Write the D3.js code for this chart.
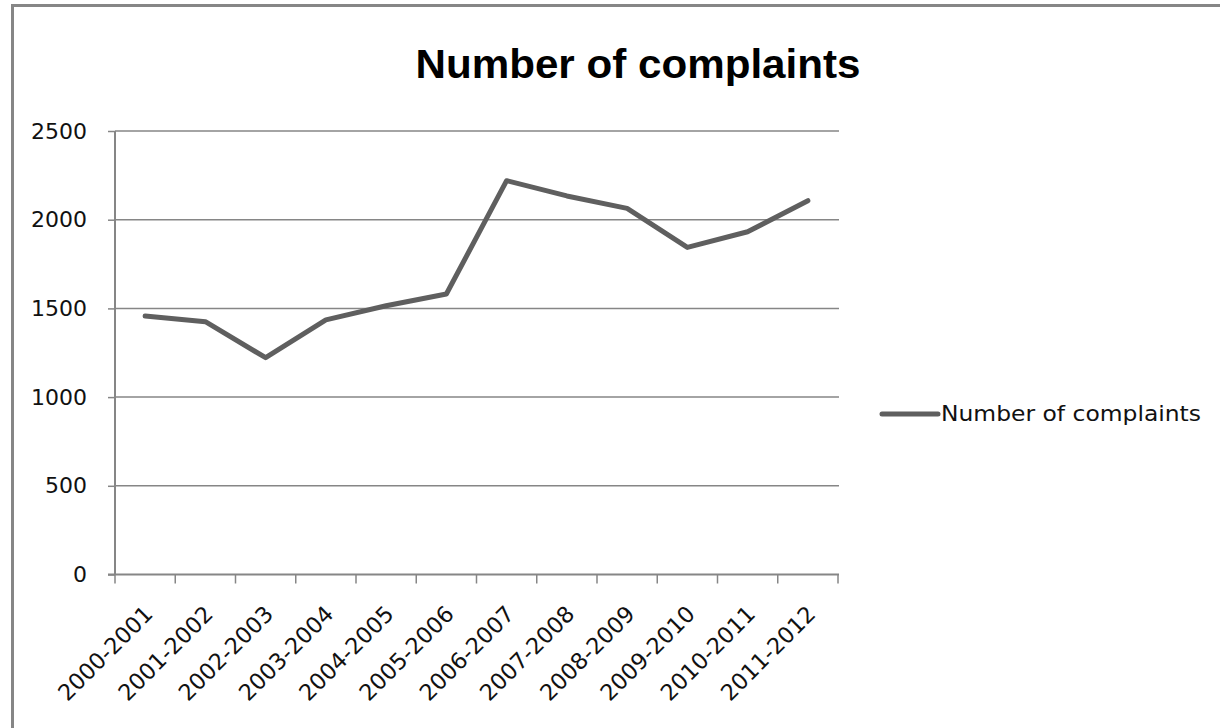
<!DOCTYPE html>
<html>
<head>
<meta charset="utf-8">
<script src="https://cdn.jsdelivr.net/npm/d3@7"></script>
<style>
  html, body { margin: 0; padding: 0; background: #fff; }
  svg { display: block; }
</style>
</head>
<body>
<svg id="chart" width="1220" height="728"></svg>
<script>
const categories = ["2000-2001","2001-2002","2002-2003","2003-2004","2004-2005","2005-2006",
  "2006-2007","2007-2008","2008-2009","2009-2010","2010-2011","2011-2012"];
const complaints = [1457, 1425, 1222, 1435, 1515, 1581, 2220, 2134, 2064, 1844, 1932, 2107];
const yTicks = [0, 500, 1000, 1500, 2000, 2500];
const seriesName = "Number of complaints";
const titleText = "Number of complaints";

(function () {
const svg = d3.select("#chart");
const W = 1220, H = 728;
const pLeft = 115, pRight = 838, pTop = 131, pBottom = 574.5;
const gray = "#868686", lineColor = "#5f5f5f";
const font = "'DejaVu Sans', sans-serif";

svg.append("rect").attr("width", W).attr("height", H).attr("fill", "#fff");
// outer chart border (cropped at right/bottom)
svg.append("rect").attr("x", 12.5).attr("y", 5.5).attr("width", W + 20).attr("height", H + 20)
  .attr("fill", "none").attr("stroke", gray).attr("stroke-width", 3);

const x = d3.scaleBand().domain(categories).range([pLeft, pRight]).padding(0);
const y = d3.scaleLinear().domain([0, 2500]).range([pBottom, pTop]);

// gridlines
svg.append("g").selectAll("line").data(yTicks.filter(d => d > 0)).join("line")
  .attr("x1", pLeft).attr("x2", pRight + 1)
  .attr("y1", d => y(d)).attr("y2", d => y(d))
  .attr("stroke", gray).attr("stroke-width", 1.5);

// y axis
const yAxis = svg.append("g").attr("transform", `translate(${pLeft},0)`)
  .call(d3.axisLeft(y).tickValues(yTicks).tickSize(7).tickPadding(21).tickFormat(d3.format("d")));
yAxis.select(".domain").attr("stroke", gray).attr("stroke-width", 2).attr("d", `M0,${pTop}V${pBottom}`);
yAxis.selectAll(".tick line").attr("stroke", gray).attr("stroke-width", 1.5);
yAxis.selectAll(".tick text").attr("font-family", font).attr("font-size", 22).attr("fill", "#111");

// x axis
const xAxisG = svg.append("g").attr("transform", `translate(0,${pBottom})`);
xAxisG.append("line").attr("x1", pLeft - 7).attr("x2", pRight + 1).attr("y1", 0).attr("y2", 0)
  .attr("stroke", gray).attr("stroke-width", 2);
const boundaries = categories.map(c => x(c)).concat([x(categories[categories.length - 1]) + x.bandwidth()]);
xAxisG.selectAll("line.tk").data(boundaries).join("line").attr("class", "tk")
  .attr("x1", d => d).attr("x2", d => d).attr("y1", 0).attr("y2", 9)
  .attr("stroke", gray).attr("stroke-width", 1.5);
svg.append("g").selectAll("text").data(categories).join("text")
  .attr("transform", d => `translate(${x(d) + x.bandwidth() / 2 + 9},${pBottom + 41}) rotate(-45)`)
  .attr("text-anchor", "end")
  .attr("font-family", font).attr("font-size", 22.5).attr("fill", "#111")
  .text(d => d);

// line
const line = d3.line().x((d, i) => x(categories[i]) + x.bandwidth() / 2).y(d => y(d));
svg.append("path").datum(complaints).attr("d", line)
  .attr("fill", "none").attr("stroke", lineColor).attr("stroke-width", 5)
  .attr("stroke-linejoin", "round").attr("stroke-linecap", "round");

// title
svg.append("text").attr("x", 638).attr("y", 78).attr("text-anchor", "middle")
  .attr("font-family", "'Liberation Sans', Arial, sans-serif").attr("font-weight", "bold")
  .attr("font-size", 40).attr("fill", "#000")
  .attr("textLength", 445).attr("lengthAdjust", "spacingAndGlyphs")
  .text(titleText);

// legend
const lg = svg.append("g");
lg.append("line").attr("x1", 882).attr("x2", 938).attr("y1", 414).attr("y2", 414)
  .attr("stroke", lineColor).attr("stroke-width", 5).attr("stroke-linecap", "round");
lg.append("text").attr("x", 941).attr("y", 421)
  .attr("font-family", font).attr("font-size", 21).attr("fill", "#111")
  .attr("textLength", 260).attr("lengthAdjust", "spacingAndGlyphs")
  .text(seriesName);
})();
</script>
</body>
</html>
